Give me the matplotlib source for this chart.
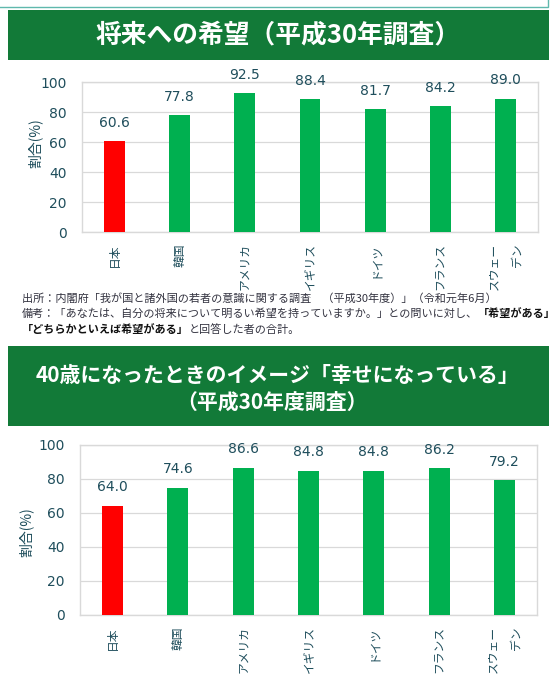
import matplotlib
matplotlib.use('Agg')
import matplotlib.pyplot as plt
from matplotlib.patches import Rectangle
import numpy as np

JP = ['Noto Sans CJK JP', 'DejaVu Sans']
NUM = ['DejaVu Sans']
TXT = '#1f4e5c'
GRID = '#d9d9d9'
BANNER = '#127a38'

countries = ['日本', '韓国', 'アメリカ', 'イギリス', 'ドイツ', 'フランス', 'スウェー\nデン']
hope = [60.6, 77.8, 92.5, 88.4, 81.7, 84.2, 89.0]
happy40 = [64.0, 74.6, 86.6, 84.8, 84.8, 86.2, 79.2]
bar_colors = ['#ff0000'] + ['#00b050'] * 6
yticks = [0, 20, 40, 60, 80, 100]

title1 = '将来への希望（平成30年調査）'
title2 = ['40歳になったときのイメージ「幸せになっている」', '（平成30年度調査）']
note1 = '出所：内閣府「我が国と諸外国の若者の意識に関する調査\u3000（平成30年度）」（令和元年6月）'
note2 = ['備考：「あなたは、自分の将来について明るい希望を持っていますか。」との問いに対し、', '「希望がある」']
note3 = ['「どちらかといえば希望がある」', 'と回答した者の合計。']
ylabel = '割合(%)'

W, H = 555, 676


def fx(px):
    return px / W


def fy(py):
    return 1 - py / H


def banner(fig, x0, y0, x1, y1):
    fig.patches.append(Rectangle((fx(x0), fy(y1)), fx(x1 - x0), (y1 - y0) / H,
                                 transform=fig.transFigure, facecolor=BANNER,
                                 edgecolor='none', zorder=0))


def draw_chart(ax, values, label_off, ylab_pos):
    x = np.arange(len(countries))
    ax.bar(x, values, width=0.32, color=bar_colors, zorder=3)
    for xi, v in zip(x, values):
        ax.annotate(f'{v:.1f}', (xi, v), xytext=(0, label_off), textcoords='offset points',
                    ha='center', va='center', fontsize=10, color=TXT, family=NUM,
                    annotation_clip=False)
    ax.set_xlim(-0.5, len(countries) - 0.5)
    ax.set_ylim(0, 100)
    ax.set_yticks(yticks)
    ax.set_yticklabels([str(t) for t in yticks], fontsize=10, color=TXT, family=NUM)
    ax.set_xticks(x)
    ax.set_xticklabels(countries, rotation=90, fontsize=8.5, color=TXT, family=JP,
                       va='top', ha='center', multialignment='right')
    ax.get_xticklabels()[-1].set_linespacing(2.0)
    ax.tick_params(axis='both', length=0)
    ax.tick_params(axis='y', pad=11)
    ax.tick_params(axis='x', pad=8)
    ax.grid(axis='y', color=GRID, lw=0.9, zorder=0)
    for s in ax.spines.values():
        s.set_color(GRID)
        s.set_linewidth(1.0)
    ax.text(ylab_pos[0], ylab_pos[1], ylabel, transform=ax.transAxes, rotation=90,
            ha='center', va='center', fontsize=10, color=TXT, family=JP)


fig = plt.figure(figsize=(W / 100, H / 100), dpi=100)

# thin border of the box above
fig.patches.append(Rectangle((fx(-5), fy(6.5)), fx(553), 10 / H, transform=fig.transFigure,
                             facecolor='none', edgecolor='#5fb8ad', lw=1.0))

banner(fig, 8, 10, 549, 60)
fig.text(fx(278), fy(35), title1, ha='center', va='center', fontsize=18.5,
         fontweight='bold', color='white', family=JP)

ax1 = fig.add_axes([fx(82), fy(232), fx(456), 150 / H])
draw_chart(ax1, hope, 13, (-0.103, 0.593))

nx = fx(22)
nc = '#333340'
fig.text(nx, fy(298), note1, ha='left', va='center', fontsize=8, color=nc, family=JP)
t2 = fig.text(nx, fy(314), note2[0], ha='left', va='center', fontsize=8, color=nc, family=JP)
ax1.annotate(note2[1], xy=(1, 0.5), xycoords=t2, ha='left', va='center', fontsize=8,
             fontweight='bold', color='#111', family=JP)
t3 = fig.text(nx, fy(330), note3[0], ha='left', va='center', fontsize=8, fontweight='bold',
              color='#111', family=JP)
ax1.annotate(note3[1], xy=(1, 0.5), xycoords=t3, ha='left', va='center', fontsize=8,
             color=nc, family=JP)

banner(fig, 8, 346, 549, 426)
fig.text(fx(278), fy(376), title2[0], ha='center', va='center', fontsize=15,
         fontweight='bold', color='white', family=JP)
fig.text(fx(272), fy(402), title2[1], ha='center', va='center', fontsize=15,
         fontweight='bold', color='white', family=JP)

ax2 = fig.add_axes([fx(80), fy(615), fx(457), 170 / H])
draw_chart(ax2, happy40, 13.5, (-0.118, 0.488))

fig.savefig('out.png', dpi=100)
